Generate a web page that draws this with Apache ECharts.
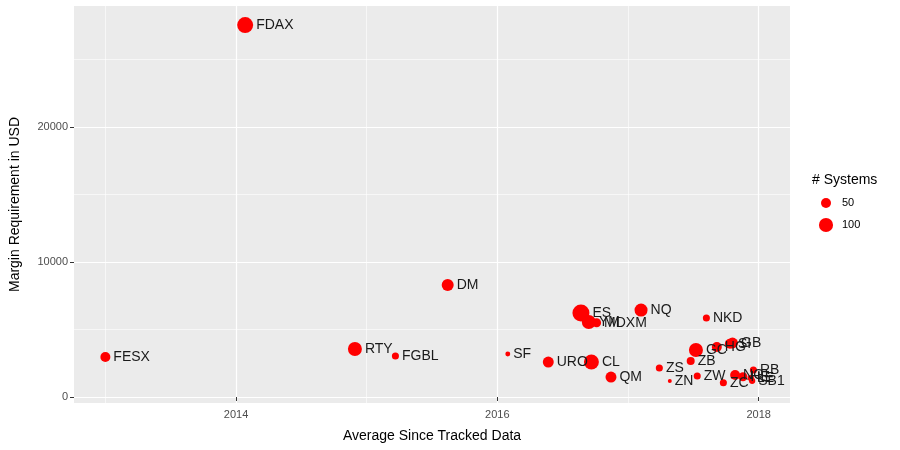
<!DOCTYPE html>
<html><head><meta charset="utf-8">
<script src="https://cdn.jsdelivr.net/npm/echarts@6/dist/echarts.min.js"></script>
<style>body{margin:0;background:#fff}#c{width:900px;height:450px}</style>
</head><body><div id="c"></div>
<script>
// symbols, tracked year (x), margin in USD (y), number of systems (size)
const symbols = ["FESX","FDAX","RTY","FGBL","DM","SF","URO","CL","ES","YM","MDXM","QM","NQ","NKD","ZS","ZN","ZB","ZW","GC","HG","SI","GB","NG","ZC","HE","RB","LE","SB1"];
const years   = [2013.0,2014.07,2014.91,2015.22,2015.62,2016.08,2016.39,2016.72,2016.64,2016.70,2016.76,2016.87,2017.10,2017.60,2017.24,2017.32,2017.48,2017.53,2017.52,2017.68,2017.78,2017.80,2017.82,2017.73,2017.88,2017.96,2017.94,2017.95];
const margins = [2960,27550,3560,3040,8300,3190,2590,2590,6220,5550,5500,1480,6440,5850,2150,1190,2670,1560,3480,3700,3950,4000,1630,1050,1500,2000,1400,1200];
const systems = [50,128,98,25,72,12,60,112,145,98,40,60,85,25,25,8,32,25,98,50,50,60,50,25,40,25,20,20];

const size = n => 10 * Math.sqrt(n / 50);
const majorX = [2014, 2016, 2018], minorX = [2013, 2015, 2017];
const majorY = [0, 10000, 20000], minorY = [5000, 15000, 25000];

const chart = echarts.init(document.getElementById("c"));
const lines = (vals, key, w) => vals.map(v => ({ [key]: v, lineStyle: { color: "#fff", width: w, type: "solid" } }));
chart.setOption({
	animation: false,
	grid: { left: 71, right: 110, top: 6, bottom: 47, show: true, backgroundColor: "#EBEBEB", borderWidth: 0 },
	xAxis: {
		type: "value", min: 2012.76, max: 2018.24,
		name: "Average Since Tracked Data", nameLocation: "middle", nameGap: 26,
		nameTextStyle: { fontSize: 14, color: "#000", fontFamily: "Liberation Sans" },
		axisLine: { show: false }, splitLine: { show: false },
		axisTick: { customValues: majorX, length: 4, lineStyle: { color: "#333" } },
		axisLabel: { customValues: majorX, formatter: v => String(v), color: "#4d4d4d", fontSize: 11, fontFamily: "Liberation Sans", margin: 6 }
	},
	yAxis: {
		type: "value", min: -444, max: 28960,
		name: "Margin Requirement in USD", nameLocation: "middle", nameGap: 52,
		nameTextStyle: { fontSize: 14, color: "#000", fontFamily: "Liberation Sans" },
		axisLine: { show: false }, splitLine: { show: false },
		axisTick: { customValues: majorY, length: 4, lineStyle: { color: "#333" } },
		axisLabel: { customValues: majorY, formatter: v => String(v), color: "#4d4d4d", fontSize: 11, fontFamily: "Liberation Sans", margin: 6 }
	},
	series: [{
		type: "scatter",
		data: symbols.map((s, i) => ({ name: s, value: [years[i], margins[i], systems[i]] })),
		symbolSize: v => size(v[2]),
		itemStyle: { color: "#FF0000", opacity: 1 },
		label: { show: true, position: "right", distance: 3, formatter: "{b}", color: "#1a1a1a", fontSize: 14, fontFamily: "Liberation Sans" },
		markLine: {
			silent: true, symbol: "none", label: { show: false }, z: 0,
			data: lines(majorX, "xAxis", 1.2).concat(lines(minorX, "xAxis", 0.6), lines(majorY, "yAxis", 1.2), lines(minorY, "yAxis", 0.6))
		},
		z: 3
	}],
	graphic: [
		{ type: "text", left: 812, top: 173, style: { text: "# Systems", fontSize: 14, fill: "#000", fontFamily: "Liberation Sans" } },
		{ type: "circle", shape: { cx: 826, cy: 203, r: size(50) / 2 }, style: { fill: "#FF0000" } },
		{ type: "circle", shape: { cx: 826, cy: 225, r: size(100) / 2 }, style: { fill: "#FF0000" } },
		{ type: "text", left: 842, top: 197, style: { text: "50", fontSize: 11, fill: "#000", fontFamily: "Liberation Sans" } },
		{ type: "text", left: 842, top: 219, style: { text: "100", fontSize: 11, fill: "#000", fontFamily: "Liberation Sans" } }
	]
});
</script></body></html>
